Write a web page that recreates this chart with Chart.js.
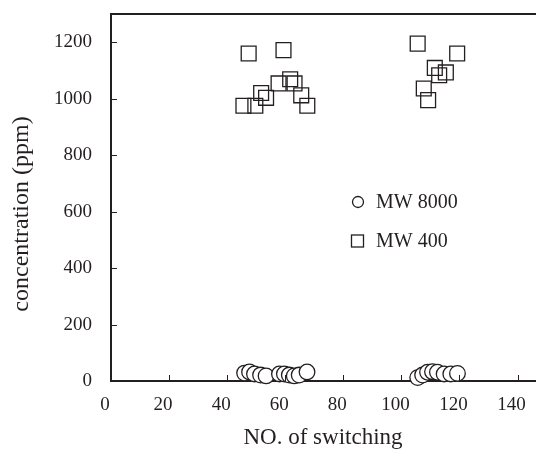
<!DOCTYPE html>
<html><head><meta charset="utf-8">
<script src="https://cdn.jsdelivr.net/npm/chart.js@4.4.1/dist/chart.umd.min.js"></script>
<style>html,body{margin:0;padding:0;background:#fff;}#c{display:block;}</style>
</head><body>
<canvas id="c" width="536" height="455"></canvas>
<script>
// ---- data ----
const seriesNames = ['MW 8000', 'MW 400'];
const mw8000X = [46.0, 47.7, 49.4, 51.5, 53.4, 58.0, 59.7, 61.4, 63.1, 64.8, 67.5, 105.6, 107.3, 109.0, 110.7, 112.4, 114.7, 117.0, 119.3];
const mw8000Y = [28, 32, 25, 21, 18, 25, 25, 21, 18, 21, 32, 12, 21, 31, 33, 31, 25, 25, 27];
const mw400X = [45.6, 49.7, 47.4, 51.7, 53.4, 57.7, 59.4, 61.7, 63.2, 65.5, 67.6, 105.6, 107.7, 109.2, 111.5, 113.0, 115.3, 119.2];
const mw400Y = [975, 975, 1160, 1020, 1003, 1054, 1172, 1069, 1054, 1012, 975, 1195, 1036, 995, 1109, 1083, 1093, 1160];
const xTicks = [0, 20, 40, 60, 80, 100, 120, 140];
const yTicks = [0, 200, 400, 600, 800, 1000, 1200];
const xTitle = 'NO. of switching';
const yTitle = 'concentration (ppm)';

const INK = '#231f20';
const FONT = "'Liberation Serif', 'Times New Roman', serif";

const toPts = (xs, ys) => xs.map((x, i) => ({x: x, y: ys[i]}));

const frameAndTicks = {
  id: 'frameAndTicks',
  afterDraw(chart) {
    const {ctx, chartArea: a, scales: {x, y}} = chart;
    ctx.save();
    ctx.strokeStyle = INK;
    // top frame line
    ctx.lineWidth = 2;
    ctx.beginPath();
    ctx.moveTo(a.left - 1, a.top);
    ctx.lineTo(chart.width, a.top);
    ctx.stroke();
    // inward tick marks
    ctx.lineWidth = 1;
    ctx.beginPath();
    x.ticks.forEach(t => {
      const px = Math.round(x.getPixelForValue(t.value)) + 0.5;
      ctx.moveTo(px, a.bottom);
      ctx.lineTo(px, a.bottom - 6);
    });
    y.ticks.forEach(t => {
      const py = Math.round(y.getPixelForValue(t.value)) + 0.5;
      ctx.moveTo(a.left, py);
      ctx.lineTo(a.left + 6, py);
    });
    ctx.stroke();
    // y axis title (placed as in the reference, slightly below the plot centre)
    ctx.fillStyle = INK;
    ctx.font = "24px " + FONT;
    ctx.textAlign = 'center';
    ctx.textBaseline = 'middle';
    ctx.translate(22, 214);
    ctx.rotate(-Math.PI / 2);
    ctx.fillText(yTitle, 0, 0);
    ctx.restore();
  }
};

const innerLegend = {
  id: 'innerLegend',
  afterDraw(chart) {
    const {ctx} = chart;
    ctx.save();
    ctx.strokeStyle = INK;
    ctx.fillStyle = INK;
    ctx.lineWidth = 1.3;
    ctx.beginPath();
    ctx.arc(358, 202, 5.5, 0, Math.PI * 2);
    ctx.stroke();
    ctx.strokeRect(351.5, 235, 12, 12);
    ctx.font = "20px " + FONT;
    ctx.textBaseline = 'middle';
    ctx.textAlign = 'left';
    ctx.fillText(seriesNames[0], 376, 203);
    ctx.fillText(seriesNames[1], 376, 242);
    ctx.restore();
  }
};

new Chart(document.getElementById('c'), {
  type: 'scatter',
  data: {
    datasets: [
      {
        label: seriesNames[0],
        data: toPts(mw8000X, mw8000Y),
        pointStyle: 'circle',
        pointRadius: 7.8,
        pointHoverRadius: 7.8,
        borderColor: INK,
        backgroundColor: '#ffffff',
        borderWidth: 1.3,
        clip: false
      },
      {
        label: seriesNames[1],
        data: toPts(mw400X, mw400Y),
        pointStyle: 'rect',
        pointRadius: 10.5,
        pointHoverRadius: 10.5,
        borderColor: INK,
        backgroundColor: 'rgba(0,0,0,0)',
        borderWidth: 1.3,
        clip: false
      }
    ]
  },
  options: {
    responsive: false,
    animation: false,
    events: [],
    layout: {autoPadding: false, padding: {top: 14, right: 1, left: 0, bottom: 0}},
    plugins: {legend: {display: false}, tooltip: {enabled: false}},
    scales: {
      x: {
        type: 'linear',
        min: 0,
        max: 146,
        afterBuildTicks: s => { s.ticks = xTicks.map(v => ({value: v})); },
        afterFit: s => { s.height = 74; s.paddingLeft = 0; s.paddingRight = 0; },
        grid: {display: false, drawTicks: true, tickLength: 13},
        border: {display: true, color: INK, width: 2},
        ticks: {color: INK, font: {family: FONT, size: 19}, padding: 0, labelOffset: -6, maxRotation: 0, autoSkip: false,
                callback: v => String(v)},
        title: {display: true, text: xTitle, color: INK, font: {family: FONT, size: 23}, padding: {top: 0, bottom: 3}}
      },
      y: {
        type: 'linear',
        min: 0,
        max: 1300,
        afterBuildTicks: s => { s.ticks = yTicks.map(v => ({value: v})); },
        afterFit: s => { s.width = 111; s.paddingTop = 0; s.paddingBottom = 0; },
        grid: {display: false, drawTicks: true, tickLength: 19},
        border: {display: true, color: INK, width: 2},
        ticks: {color: INK, font: {family: FONT, size: 19}, padding: 0, autoSkip: false,
                callback: v => String(v)},
        title: {display: false}
      }
    }
  },
  plugins: [frameAndTicks, innerLegend]
});
</script>
</body></html>
